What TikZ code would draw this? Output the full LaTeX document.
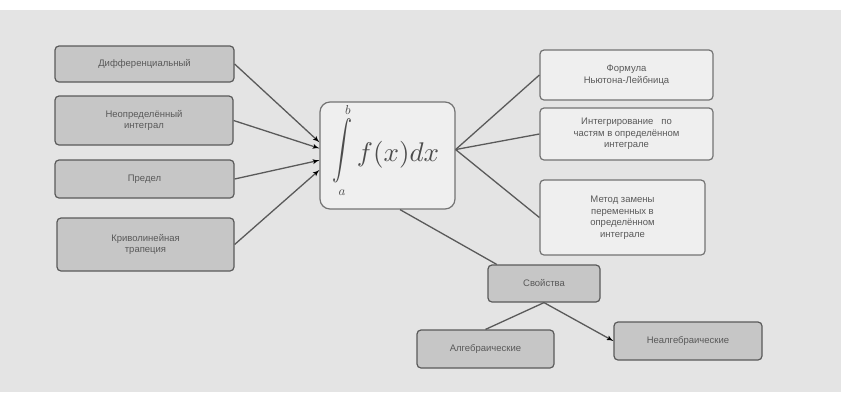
\documentclass[tikz,border=0pt]{standalone}
\usepackage{fontspec}
\setmainfont{Liberation Sans}
\usepackage{graphicx}
\usetikzlibrary{arrows,positioning}

\definecolor{fonbg}{HTML}{E4E4E4}
\definecolor{boxdark}{HTML}{C6C6C6}
\definecolor{boxlight}{HTML}{EFEFEF}
\definecolor{linegray}{HTML}{5A5A5A}

\begin{document}
\begin{tikzpicture}[>=latex', x=1pt, y=1pt]
        \tikzset{
            block/.style= {
                draw=linegray,
                line width=1.2pt,
                shape=rectangle,
                align=center,
                rounded corners=4pt,
                fill=boxdark,
                text=black!65,
                font=\fontsize{9.5}{11.5}\selectfont,
                inner sep=2pt
            },
            lightblock/.style= {
                block,
                fill=boxlight,
                draw=black!55
            },
            conn/.style= {
                draw=linegray,
                line width=1.3pt
            },
            mathtext/.style= {
                text=black!70,
                inner sep=0pt
            },
        }
%% background
\fill[white] (0,0) rectangle (841,-392);
\fill[fonbg] (0,-10) rectangle (841,-392);
\useasboundingbox (0,0) rectangle (841,-392);
        \node [block, minimum width=179pt, minimum height=36pt] (diff) at (144.5,-64)
            {Дифференциальный};
        \node [block, minimum width=178pt, minimum height=49pt] (neopr) at (144,-120.5)
            {Неопределённый\\интеграл};
        \node [block, minimum width=179pt, minimum height=38pt] (predel) at (144.5,-179)
            {Предел};
        \node [block, minimum width=177pt, minimum height=53pt] (trap) at (145.5,-244.5)
            {Криволинейная\\трапеция};
        \node [lightblock, minimum width=135pt, minimum height=107pt,
               rounded corners=10pt] (integral) at (387.5,-155.5) {};
        \node [mathtext] (intsign) at (342,-151)
            {\scalebox{2}[2.9]{$\displaystyle\int$}};
        \node [mathtext] (upper) at (348,-110) {\scalebox{1.3}{$b$}};
        \node [mathtext] (lower) at (342,-193) {\scalebox{1.3}{$a$}};
        \node [mathtext] (func) at (398,-155) {\scalebox{2.7}{$f(x)dx$}};
        \node [lightblock, minimum width=173pt, minimum height=50pt] (nl) at (626.5,-75)
            {Формула\\Ньютона-Лейбница};
        \node [lightblock, minimum width=173pt, minimum height=52pt] (chast) at (626.5,-134)
            {Интегрирование~~~по\\частям в определённом\\интеграле};
        \node [lightblock, minimum width=165pt, minimum height=75pt] (zamena) at (622.5,-217.5)
            {Метод замены\\переменных в\\определённом\\интеграле};
        \node [block, minimum width=112pt, minimum height=37pt] (svoistva) at (544,-283.5)
            {Свойства};
        \node [block, minimum width=137pt, minimum height=38pt] (alg) at (485.5,-349)
            {Алгебраические};
        \node [block, minimum width=148pt, minimum height=38pt] (nealg) at (688,-341)
            {Неалгебраические};
%% paths
\path[conn] 
    (diff.east) edge[->] (integral.169)
    (neopr.east) edge[->] (integral.174)
    (predel.east) edge[->] (integral.184)
    (trap.east) edge[->] (integral.192)
    (integral.5) edge (nl.west)
    (integral.5) edge (chast.west)
    (integral.5) edge (zamena.west)
    (integral.-77) edge (svoistva.158)
    (svoistva.south) edge (alg.north)
    (svoistva.south) edge[->] (nealg.west)
;
\end{tikzpicture}
\end{document}
